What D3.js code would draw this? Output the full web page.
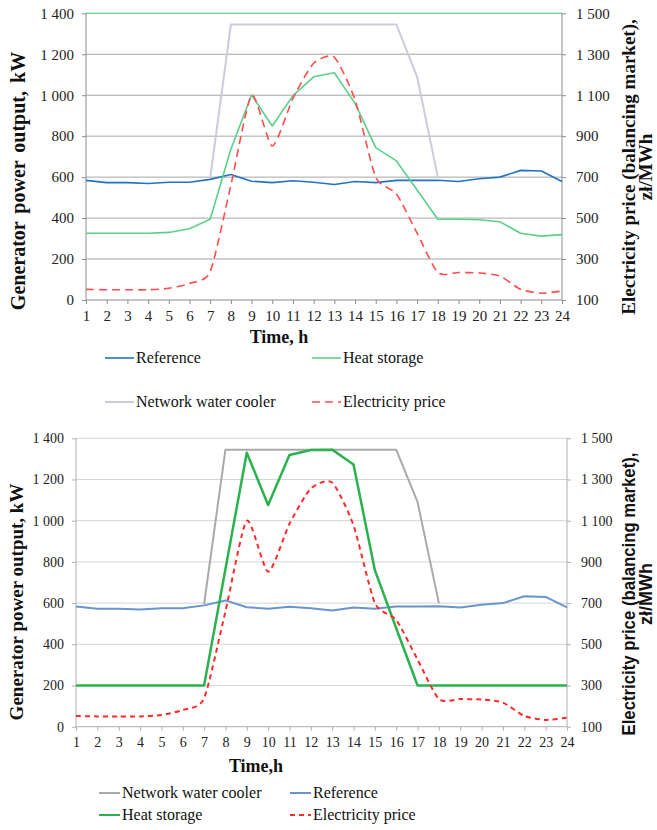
<!DOCTYPE html>
<html>
    <head>
        <title>Generator power output</title>
        <script src="https://d3js.org/d3.v7.min.js" charset="utf-8"></script>
        <style>
            body { margin: 0; background: white; }
            svg { display: block; }
        </style>
    </head>
    <body>
        <script>
            // data
            var hours = [1,2,3,4,5,6,7,8,9,10,11,12,13,14,15,16,17,18,19,20,21,22,23,24];
            var referenceKW = [584,573,573,569,575,575,589,613,580,573,582,575,564,579,573,584,584,585,579,592,600,633,630,579];
            var coolerKW = [null,null,null,null,null,null,595,1345,1345,1345,1345,1345,1345,1345,1345,1345,1090,600,null,null,null,null,null,null];
            var heatTopKW = [326,326,326,326,330,348,394,736,1001,850,998,1090,1110,960,744,679,537,394,394,392,382,326,312,319];
            var heatBottomKW = [200,200,200,200,200,200,200,765,1330,1076,1319,1343,1345,1273,760,478,200,200,200,200,200,200,200,200];
            var priceZl = [152,150,150,150,157,181,238,660,1100,852,1085,1256,1285,1077,700,618,426,234,234,232,217,152,133,144];
            var leftTicks = [0,200,400,600,800,1000,1200,1400];
            var rightTicks = [100,300,500,700,900,1100,1300,1500];

            var width = 657, height = 830;
            var svg = d3.select("body").append("svg")
                .attr("width", width)
                .attr("height", height);

            var loc = d3.formatLocale({decimal: ",", thousands: " ", grouping: [3], currency: ["", ""]});
            var fmt = loc.format(",");
            var serif = "'Liberation Serif', 'Times New Roman', serif";

            function drawChart(c) {
                var g = svg.append("g");
                var x = d3.scaleLinear().domain([1, 24]).range([c.left, c.right]);
                var yL = d3.scaleLinear().domain([0, 1400]).range([c.bottom, c.top]);
                var yR = d3.scaleLinear().domain([100, 1500]).range([c.bottom, c.top]);

                // grid
                g.selectAll(".grid").data(leftTicks.slice(1)).enter().append("line")
                    .attr("x1", c.left).attr("x2", c.right)
                    .attr("y1", d => yL(d)).attr("y2", d => yL(d))
                    .attr("stroke", d => (d == 1400 && c.topLine) ? c.topLine : c.grid)
                    .attr("stroke-width", d => (d == 1400 && c.topLine) ? 1.5 : 1);

                // axes
                var ax = g.append("g").attr("transform", "translate(0," + c.bottom + ")")
                    .call(d3.axisBottom(x).tickValues(hours).tickSize(4).tickPadding(6).tickFormat(d3.format("d")));
                var al = g.append("g").attr("transform", "translate(" + c.left + ",0)")
                    .call(d3.axisLeft(yL).tickValues(leftTicks).tickSize(4).tickPadding(8).tickFormat(fmt));
                var ar = g.append("g").attr("transform", "translate(" + c.right + ",0)")
                    .call(d3.axisRight(yR).tickValues(rightTicks).tickSize(4).tickPadding(10).tickFormat(fmt));
                [ax, al, ar].forEach(function(a) {
                    a.attr("font-family", serif);
                    a.select(".domain").remove();
                    a.selectAll(".tick line").attr("stroke", c.axis);
                    a.selectAll(".tick text")
                        .attr("font-family", serif)
                        .attr("font-size", c.tickSize)
                        .attr("fill", "#222");
                });
                g.append("line").attr("x1", c.left).attr("x2", c.right)
                    .attr("y1", c.bottom).attr("y2", c.bottom).attr("stroke", c.axis);
                g.append("line").attr("x1", c.left).attr("x2", c.left)
                    .attr("y1", c.top).attr("y2", c.bottom).attr("stroke", c.axis);
                g.append("line").attr("x1", c.right).attr("x2", c.right)
                    .attr("y1", c.top).attr("y2", c.bottom).attr("stroke", c.axis);

                // series
                c.series.forEach(function(s) {
                    var sc = s.right ? yR : yL;
                    var line = d3.line()
                        .defined(d => d != null)
                        .x((d, i) => x(hours[i]))
                        .y(d => sc(d))
                        .curve(s.smooth ? d3.curveCardinal.tension(0.35) : d3.curveLinear);
                    g.append("path")
                        .datum(s.values)
                        .attr("fill", "none")
                        .attr("stroke", s.color)
                        .attr("stroke-width", s.width)
                        .attr("stroke-dasharray", s.dash || null)
                        .attr("stroke-linejoin", "round")
                        .attr("d", line);
                });

                // titles
                g.append("text")
                    .attr("transform", "translate(" + c.leftTitleX + "," + c.titleY + ") rotate(-90)")
                    .attr("text-anchor", "middle")
                    .attr("font-family", serif).attr("font-weight", "bold")
                    .attr("font-size", c.leftTitleSize)
                    .attr("word-spacing", c.wordSpacing || 0)
                    .attr("fill", "#111")
                    .text("Generator power output, kW");
                c.rightTitle.forEach(function(t, i) {
                    var tx = g.append("text")
                        .attr("transform", "translate(" + t.x + "," + c.rightTitleY + ") rotate(-90)")
                        .attr("text-anchor", "middle")
                        .attr("font-family", c.rightFont).attr("font-weight", "bold")
                        .attr("font-size", c.rightTitleSize)
                        .attr("fill", "#111")
                        .text(t.text);
                    if (t.len) tx.attr("textLength", t.len).attr("lengthAdjust", "spacingAndGlyphs");
                });
                g.append("text")
                    .attr("x", c.timeX).attr("y", c.timeY)
                    .attr("text-anchor", "middle")
                    .attr("font-family", serif).attr("font-weight", "bold")
                    .attr("font-size", 18).attr("fill", "#111")
                    .text(c.timeLabel);

                // legend
                c.legend.forEach(function(l) {
                    var s = c.series[l.idx];
                    g.append("line")
                        .attr("x1", l.x).attr("x2", l.x + c.legLine)
                        .attr("y1", l.y).attr("y2", l.y)
                        .attr("stroke", s.color).attr("stroke-width", Math.min(s.width, 2))
                        .attr("stroke-dasharray", s.dash || null);
                    g.append("text")
                        .attr("x", l.x + c.legLine + 2).attr("y", l.y + 5)
                        .attr("font-family", serif).attr("font-size", 16)
                        .attr("fill", "#111")
                        .text(s.name);
                });
            }

            drawChart({
                left: 86, right: 562, top: 13.3, bottom: 300,
                grid: "#a6a6a6", axis: "#8c8c8c", topLine: "#7fd9a4", tickSize: 15,
                leftTitleX: 25, leftTitleSize: 20, wordSpacing: 3, titleY: 181,
                rightTitle: [{x: 635, text: "Electricity price (balancing market),"}, {x: 652, text: "zł/MWh"}],
                rightTitleY: 167, rightTitleSize: 19, rightFont: serif,
                timeX: 279, timeY: 343, timeLabel: "Time, h",
                legLine: 29,
                series: [
                    {name: "Network water cooler", values: coolerKW, color: "#cfc9e0", width: 2},
                    {name: "Reference", values: referenceKW, color: "#2373c4", width: 1.6},
                    {name: "Heat storage", values: heatTopKW, color: "#5ccf8a", width: 1.6},
                    {name: "Electricity price", values: priceZl, color: "#ff4d4d", width: 1.6, dash: "8,5", right: true, smooth: true}
                ],
                legend: [
                    {idx: 1, x: 105, y: 358},
                    {idx: 2, x: 312, y: 358},
                    {idx: 0, x: 105, y: 402},
                    {idx: 3, x: 312, y: 402}
                ]
            });

            drawChart({
                left: 76, right: 567, top: 438.3, bottom: 726.7,
                grid: "#d4d4d4", axis: "#b0b0b0", topLine: null, tickSize: 14,
                leftTitleX: 23, leftTitleSize: 19, titleY: 602,
                rightTitle: [{x: 635, text: "Electricity price (balancing market),", len: 283}, {x: 652, text: "zł/MWh"}],
                rightTitleY: 594, rightTitleSize: 18, rightFont: "'Liberation Sans', Arial, sans-serif",
                timeX: 256, timeY: 772, timeLabel: "Time,h",
                legLine: 21,
                series: [
                    {name: "Network water cooler", values: coolerKW, color: "#a9a9a9", width: 2},
                    {name: "Reference", values: referenceKW, color: "#6a94cf", width: 2},
                    {name: "Heat storage", values: heatBottomKW, color: "#2bb24f", width: 2.5},
                    {name: "Electricity price", values: priceZl, color: "#ff2b2b", width: 2, dash: "5,4", right: true, smooth: true}
                ],
                legend: [
                    {idx: 0, x: 99, y: 793},
                    {idx: 1, x: 290, y: 793},
                    {idx: 2, x: 99, y: 815},
                    {idx: 3, x: 290, y: 815}
                ]
            });
        </script>
    </body>
</html>
